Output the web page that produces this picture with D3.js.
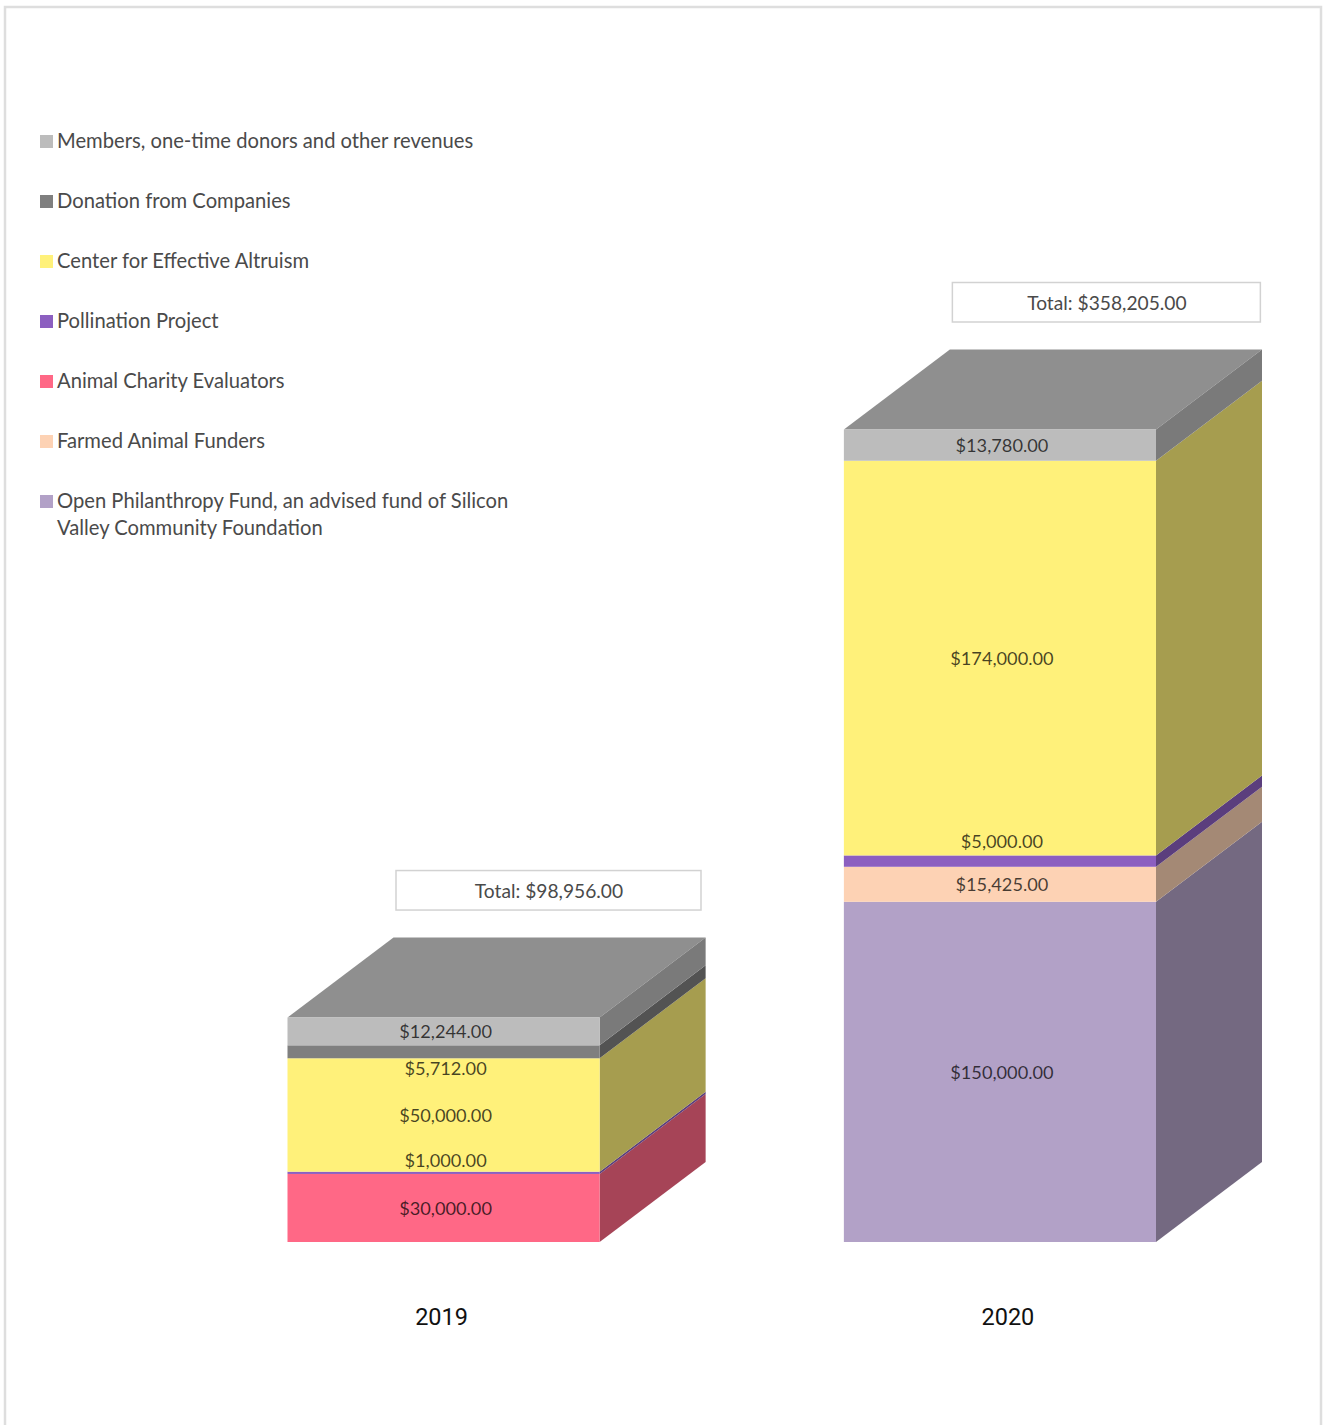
<!DOCTYPE html>
<html>

<head>
    <meta charset="utf-8">
    <style>
        html, body {
            margin: 0;
            padding: 0;
            background: #fff;
        }

        svg {
            display: block;
            font-family: Lato, sans-serif;
        }
    </style>
</head>

<body>
    <svg width="1323" height="1425"></svg>
</body>

<script src="https://d3js.org/d3.v7.min.js"></script>

<script>
    // data, bottom segment first
    let years = ["2019", "2020"];
    let sources = [
        "Open Philanthropy Fund, an advised fund of Silicon Valley Community Foundation",
        "Farmed Animal Funders",
        "Animal Charity Evaluators",
        "Pollination Project",
        "Center for Effective Altruism",
        "Donation from Companies",
        "Members, one-time donors and other revenues"
    ];
    let values2019 = [0, 0, 30000, 1000, 50000, 5712, 12244];
    let values2020 = [150000, 15425, 0, 5000, 174000, 0, 13780];
    let totals = [98956, 358205];
    let colors = ["#b2a1c7", "#fdd2b4", "#ff6886", "#8c5fc0", "#fff17a", "#7f7f7f", "#bcbcbc"];
    let legendOrder = [6, 5, 4, 3, 2, 1, 0];

    let svg = d3.select("svg");

    let depth = { x: 106, y: 80 };
    let sideShade = 0.65;

    let x = d3.scaleBand()
        .domain(years)
        .range([287.5, 1156])
        .paddingInner(0.439);

    let y = d3.scaleLinear()
        .domain([0, 358205])
        .range([1242, 429.5]);

    let money = d3.format("$,.2f");

    function shade(c) {
        let rgb = d3.rgb(c);
        return d3.rgb(rgb.r * sideShade, rgb.g * sideShade, rgb.b * sideShade).formatHex();
    }

    // page frame
    svg.append("rect")
        .attr("x", 5)
        .attr("y", 7)
        .attr("width", 1316)
        .attr("height", 1440)
        .attr("fill", "#fff")
        .attr("stroke", "#dedede")
        .attr("stroke-width", 2.5);

    // legend
    let legend = svg.append("g");

    legendOrder.forEach((s, i) => {
        let row = legend.append("g")
            .attr("transform", `translate(40,${141 + i * 60})`);

        row.append("rect")
            .attr("y", -6)
            .attr("width", 13)
            .attr("height", 13)
            .attr("fill", colors[s]);

        let lines = s == 0
            ? ["Open Philanthropy Fund, an advised fund of Silicon", "Valley Community Foundation"]
            : [sources[s]];

        lines.forEach((t, j) => {
            row.append("text")
                .attr("x", 17)
                .attr("y", 7 + j * 27)
                .attr("font-size", 20.2)
                .attr("fill", "#4a4a4a")
                .text(t);
        });
    });

    // how far a label sits from the middle of its segment (thin ones got moved)
    let labelNudge = {
        "2019-5": 16,
        "2019-3": -13,
        "2020-3": -20
    };

    let yearOffset = [-2, 8];
    let boxWidth = [305, 308];

    years.forEach((year, i) => {
        let values = i == 0 ? values2019 : values2020;
        let left = x(year);
        let right = left + x.bandwidth();
        let stacked = d3.cumsum(values);
        let top = stacked[stacked.length - 1];

        let g = svg.append("g");

        // top face
        g.append("path")
            .attr("d", d3.line()([
                [left, y(top)],
                [right, y(top)],
                [right + depth.x, y(top) - depth.y],
                [left + depth.x, y(top) - depth.y]
            ]) + "Z")
            .attr("fill", "#8f8f8f");

        values.forEach((v, s) => {
            if (v == 0) return;
            let y0 = y(stacked[s] - v);
            let y1 = y(stacked[s]);

            // side face
            g.append("path")
                .attr("d", d3.line()([
                    [right, y0],
                    [right + depth.x, y0 - depth.y],
                    [right + depth.x, y1 - depth.y],
                    [right, y1]
                ]) + "Z")
                .attr("fill", shade(colors[s]));

            // front face
            g.append("rect")
                .attr("x", left)
                .attr("y", y1)
                .attr("width", x.bandwidth())
                .attr("height", y0 - y1)
                .attr("fill", colors[s]);
        });

        values.forEach((v, s) => {
            if (v == 0) return;
            let mid = y(stacked[s] - v / 2) + (labelNudge[year + "-" + s] || 0);
            g.append("text")
                .attr("x", left + x.bandwidth() / 2 + 2)
                .attr("y", mid + 0.5)
                .attr("dy", "0.35em")
                .attr("text-anchor", "middle")
                .attr("font-size", 18.2)
                .attr("fill", "#000")
                .attr("fill-opacity", 0.72)
                .text(money(v));
        });

        // total box
        let boxTop = y(top) - depth.y - 67;
        g.append("rect")
            .attr("x", left + 108.5)
            .attr("y", boxTop)
            .attr("width", boxWidth[i])
            .attr("height", 39.5)
            .attr("fill", "#fff")
            .attr("stroke", "#d2d2d2")
            .attr("stroke-width", 1.5);

        g.append("text")
            .attr("x", left + 109 + boxWidth[i] / 2)
            .attr("y", boxTop + 21)
            .attr("dy", "0.35em")
            .attr("text-anchor", "middle")
            .attr("font-size", 19.2)
            .attr("fill", "#4a4a4a")
            .text("Total: " + money(totals[i]));

        // year under the bar
        g.append("text")
            .attr("x", left + x.bandwidth() / 2 + yearOffset[i])
            .attr("y", 1325)
            .attr("text-anchor", "middle")
            .attr("font-family", "Roboto, sans-serif")
            .attr("font-size", 23.5)
            .attr("font-weight", 400)
            .attr("fill", "#111")
            .text(year);
    });
</script>

</html>
